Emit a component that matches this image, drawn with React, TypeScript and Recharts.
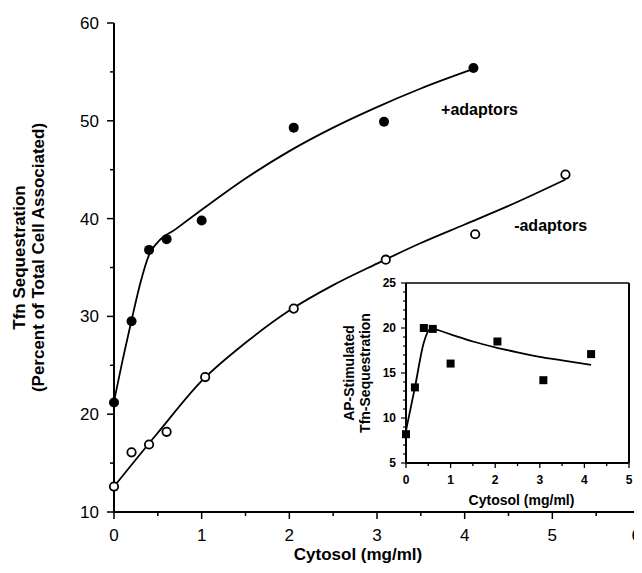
import { ComposedChart, Line, Scatter, XAxis, YAxis, Label, ReferenceDot, ReferenceLine } from "recharts";

const FONT = '"Liberation Sans", Arial, Helvetica, sans-serif';

// +adaptors (filled circles)
const plusX = [0, 0.2, 0.4, 0.6, 1.0, 2.05, 3.08, 4.1];
const plusY = [21.2, 29.5, 36.8, 37.9, 39.8, 49.3, 49.9, 55.4];
// fitted curve through +adaptors
const plusFitX = [0, 0.1, 0.2, 0.3, 0.4, 0.5, 0.7, 1, 1.5, 2, 2.5, 3, 3.5, 4.1];
const plusFitY = [21.3, 25.6, 29.6, 33.4, 36.3, 37.6, 38.9, 40.9, 44.1, 46.9, 49.3, 51.4, 53.3, 55.3];

// -adaptors (open circles)
const minusX = [0, 0.2, 0.4, 0.6, 1.04, 2.05, 3.1, 4.12, 5.15];
const minusY = [12.6, 16.1, 16.9, 18.2, 23.8, 30.8, 35.8, 38.4, 44.5];
const minusFitX = [0, 0.5, 1, 1.5, 2, 2.5, 3, 3.5, 4, 4.5, 5.15];
const minusFitY = [12.6, 18.1, 23.4, 27.3, 30.6, 33.2, 35.4, 37.5, 39.4, 41.3, 44.0];

// inset: AP-stimulated sequestration
const apX = [0, 0.2, 0.4, 0.6, 1.0, 2.05, 3.08, 4.15];
const apY = [8.2, 13.4, 20.0, 19.9, 16.05, 18.5, 14.2, 17.1];
const apFitX = [0, 0.2, 0.4, 0.55, 1, 1.5, 2, 2.5, 3, 3.5, 4.15];
const apFitY = [8.6, 13.4, 18.4, 19.9, 19.3, 18.5, 17.85, 17.3, 16.8, 16.4, 15.9];

const mainXTicks = [0, 0.5, 1, 1.5, 2, 2.5, 3, 3.5, 4, 4.5, 5, 5.5, 6];
const mainYTicks = [10, 15, 20, 25, 30, 35, 40, 45, 50, 55, 60];
const insetXTicks = [0, 0.5, 1, 1.5, 2, 2.5, 3, 3.5, 4, 4.5, 5];
const insetYTicks = [5, 6, 7, 8, 9, 10, 11, 12, 13, 14, 15, 16, 17, 18, 19, 20, 21, 22, 23, 24, 25];

// annotation anchors, in data units
const plusLabel = { x: 4.17, y: 51.2, text: "+adaptors" };
const minusLabel = { x: 4.98, y: 39.3, text: "-adaptors" };

const pts = (xs: number[], ys: number[]) => xs.map((x, i) => ({ x, y: ys[i] }));

const FilledDot = (p: any) => <circle cx={p.cx} cy={p.cy} r={5} fill="#000" />;
const OpenDot = (p: any) => (
  <circle cx={p.cx} cy={p.cy} r={4.2} fill="#fff" stroke="#000" strokeWidth={1.8} />
);
const Square = (p: any) => <rect x={p.cx - 4} y={p.cy - 4} width={8} height={8} fill="#000" />;

const MainXTick = ({ x, y, payload }: any) => {
  const major = Number.isInteger(payload.value);
  // last label sits at the page edge: right-align it so it stays whole
  const last = payload.value === 6;
  return (
    <g>
      <line x1={x} y1={y} x2={x} y2={y + (major ? 7 : 4)} stroke="#000" strokeWidth={1.5} />
      {major && (
        <text
          x={last ? x + 1 : x}
          y={y + 29}
          textAnchor={last ? "end" : "middle"}
          fontSize={17}
          fontFamily={FONT}
          fill="#000"
        >
          {payload.value}
        </text>
      )}
    </g>
  );
};

const MainYTick = ({ x, y, payload }: any) => {
  const major = payload.value % 10 === 0;
  return (
    <g>
      <line x1={x - (major ? 7 : 4)} y1={y} x2={x} y2={y} stroke="#000" strokeWidth={1.5} />
      {major && (
        <text x={x - 15} y={y + 6} textAnchor="end" fontSize={17} fontFamily={FONT} fill="#000">
          {payload.value}
        </text>
      )}
    </g>
  );
};

const InsetXTick = ({ x, y, payload }: any) => {
  const major = Number.isInteger(payload.value);
  return (
    <g>
      <line x1={x} y1={y} x2={x} y2={y + (major ? 5 : 3)} stroke="#000" strokeWidth={1.3} />
      {major && (
        <text x={x} y={y + 21} textAnchor="middle" fontSize={12} fontWeight={700} fontFamily={FONT} fill="#000">
          {payload.value}
        </text>
      )}
    </g>
  );
};

const InsetYTick = ({ x, y, payload }: any) => {
  const major = payload.value % 5 === 0;
  return (
    <g>
      <line x1={x - (major ? 5 : 3)} y1={y} x2={x} y2={y} stroke="#000" strokeWidth={1.2} />
      {major && (
        <text x={x - 10} y={y + 4} textAnchor="end" fontSize={12} fontWeight={700} fontFamily={FONT} fill="#000">
          {payload.value}
        </text>
      )}
    </g>
  );
};

const boldLabel = { fill: "#000", fontWeight: 700, fontFamily: FONT };

export default function App() {
  return (
    <div style={{ position: "relative", width: 634, height: 565, overflow: "hidden", background: "#fff" }}>
      <ComposedChart width={680} height={565} margin={{ top: 15, right: 48, left: 46, bottom: 1 }}>
        <XAxis
          dataKey="x"
          type="number"
          domain={[0, 6]}
          ticks={mainXTicks}
          interval={0}
          tickSize={0}
          tickMargin={0}
          tickLine={false}
          tick={MainXTick}
          axisLine={{ stroke: "#000", strokeWidth: 2 }}
          height={60}
        >
          <Label value="Cytosol (mg/ml)" position="center" dx={-19} dy={12} fontSize={17} style={boldLabel} />
        </XAxis>
        <YAxis
          dataKey="y"
          type="number"
          domain={[10, 60]}
          ticks={mainYTicks}
          interval={0}
          tickSize={0}
          tickMargin={0}
          tickLine={false}
          tick={MainYTick}
          axisLine={{ stroke: "#000", strokeWidth: 2 }}
          width={60}
        >
          <Label value="Tfn Sequestration" angle={-90} position="center" dx={-65} dy={-10} fontSize={17} style={boldLabel} />
          <Label
            value="(Percent of Total Cell Associated)"
            angle={-90}
            position="center"
            dx={-46}
            dy={-10}
            fontSize={17}
            style={boldLabel}
          />
        </YAxis>
        <Line data={pts(plusFitX, plusFitY)} dataKey="y" type="monotone" stroke="#000" strokeWidth={1.8} dot={false} isAnimationActive={false} />
        <Line data={pts(minusFitX, minusFitY)} dataKey="y" type="monotone" stroke="#000" strokeWidth={1.8} dot={false} isAnimationActive={false} />
        <Scatter data={pts(plusX, plusY)} shape={FilledDot} isAnimationActive={false} />
        <Scatter data={pts(minusX, minusY)} shape={OpenDot} isAnimationActive={false} />
        <ReferenceDot
          x={plusLabel.x}
          y={plusLabel.y}
          r={0}
          fill="none"
          stroke="none"
          label={{ value: plusLabel.text, position: "center", fontSize: 16, ...boldLabel }}
        />
        <ReferenceDot
          x={minusLabel.x}
          y={minusLabel.y}
          r={0}
          fill="none"
          stroke="none"
          label={{ value: minusLabel.text, position: "center", fontSize: 16, ...boldLabel }}
        />
      </ComposedChart>

      {/* inset */}
      <div style={{ position: "absolute", left: 320, top: 260 }}>
        <ComposedChart width={320} height={250} margin={{ top: 15, right: 19, left: 28, bottom: 5 }}>
          <XAxis
            dataKey="x"
            type="number"
            domain={[0, 5]}
            ticks={insetXTicks}
            interval={0}
            tickSize={0}
            tickMargin={0}
            tickLine={false}
            tick={InsetXTick}
            axisLine={{ stroke: "#000", strokeWidth: 2 }}
            height={50}
          >
            <Label value="Cytosol (mg/ml)" position="center" dx={4} dy={12} fontSize={14} style={boldLabel} />
          </XAxis>
          <YAxis
            dataKey="y"
            type="number"
            domain={[5, 25]}
            ticks={insetYTicks}
            interval={0}
            tickSize={0}
            tickMargin={0}
            tickLine={false}
            tick={InsetYTick}
            axisLine={{ stroke: "#000", strokeWidth: 2 }}
            width={50}
          >
            <Label value="AP-Stimulated" angle={-90} position="center" dx={-32} dy={0} fontSize={14} style={boldLabel} />
            <Label value="Tfn-Sequestration" angle={-90} position="center" dx={-16} dy={0} fontSize={14} style={boldLabel} />
          </YAxis>
          <ReferenceLine y={25} stroke="#000" strokeWidth={1.5} />
          <ReferenceLine x={5} stroke="#000" strokeWidth={2} />
          <Line data={pts(apFitX, apFitY)} dataKey="y" type="monotone" stroke="#000" strokeWidth={1.8} dot={false} isAnimationActive={false} />
          <Scatter data={pts(apX, apY)} shape={Square} isAnimationActive={false} />
        </ComposedChart>
      </div>
    </div>
  );
}
